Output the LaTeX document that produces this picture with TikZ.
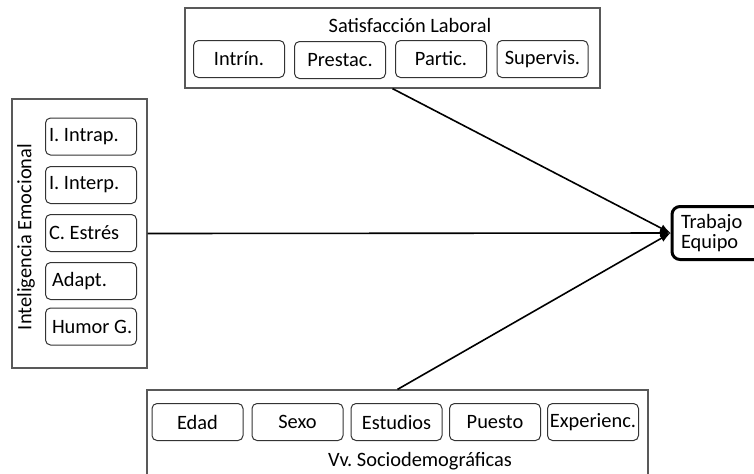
\documentclass[tikz,border=0pt]{standalone}
\usepackage{fontspec}
\setmainfont{Carlito}
\usepackage{tikz}
\usetikzlibrary{shapes,arrows}
\tikzstyle{inbox} = [rectangle, draw=black!80, line width=0.5pt, rounded corners=2.5pt,
    minimum width=45.5pt, minimum height=18.5pt, inner sep=1pt]
\tikzstyle{leftbox} = [inbox, text width=42pt, align=flush left, inner sep=1.75pt]
\tikzstyle{groupbox} = [rectangle, draw=black!65, line width=0.6pt]
\tikzstyle{target} = [rectangle, draw, line width=1.5pt, rounded corners=4pt,
    minimum width=49pt, minimum height=25pt, text width=40pt, align=flush left, inner sep=4pt,
    font=\fontsize{10.2}{7.8}\selectfont]
\tikzstyle{arrow} = [draw, -latex, line width=0.8pt]

\begin{document}
\frenchspacing
\begin{tikzpicture}[x=0.5pt, y=-0.5pt, font=\fontsize{10.2}{12}\selectfont]
			\useasboundingbox (0,0) rectangle (754,473);
			\clip (0,0) rectangle (754,473);
			% Place nodes
			\node [groupbox, minimum width=207.5pt, minimum height=40pt] (satisf) at (392.5,48) {};
			\node [groupbox, minimum width=67.5pt, minimum height=134.5pt] (intelig) at (79.5,233.5) {};
			\node [groupbox, minimum width=250.5pt, minimum height=50pt] (socio) at (397.5,440) {};
			\node [target] (trabajo) at (721,233) {Trabajo\\Equipo};
			%
			\node (satisfTitle) at (410,25) {Satisfacción Laboral};
			\node [rotate=90] (inteligTitle) at (26,237) {Inteligencia Emocional};
			\node (socioTitle) at (420,461) {Vv. Sociodemográficas};
			%
			\node [inbox] (intrin) at (239,59) {Intrín.};
			\node [inbox] (prestac) at (340,60) {Prestac.};
			\node [inbox] (partic) at (441,59) {Partic.};
			\node [inbox] (supervis) at (542.5,59) {Supervis.};
			%
			\node [leftbox] (intrap) at (91,136.5) {I. Intrap.};
			\node [leftbox] (interp) at (91,185) {I. Interp.};
			\node [leftbox] (estres) at (91,233) {C. Estrés};
			\node [leftbox] (adapt) at (91,281) {\hspace*{1.5pt}Adapt.};
			\node [leftbox] (humor) at (91,326.5) {\hspace*{1.5pt}Humor G.};
			%
			\node [inbox] (edad) at (197.5,422) {Edad};
			\node [inbox] (sexo) at (297.5,422) {Sexo};
			\node [inbox] (estudios) at (396.5,422) {Estudios};
			\node [inbox] (puesto) at (495,422) {Puesto};
			\node [inbox] (experienc) at (593,422) {Experienc.};
			%
			\path [arrow] (satisf.south) -- (trabajo.west);
			\path [arrow] (intelig.east) -- (trabajo.west);
			\path [arrow] (socio.north) -- (trabajo.west);
	\end{tikzpicture}
\end{document}
